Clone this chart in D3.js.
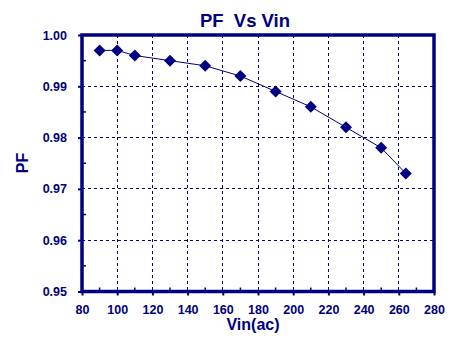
<!DOCTYPE html>
<html><head><meta charset="utf-8">
<script src="https://cdn.jsdelivr.net/npm/d3@7/dist/d3.min.js"></script>
<style>body{margin:0;background:#fff}svg{display:block}text{font-family:"Liberation Sans",Arial,sans-serif;font-weight:bold}</style>
</head><body><svg id="c" width="469" height="348"></svg>
<script>
const vin = [90,100,110,130,150,170,190,210,230,250,264];
const pf = [0.997,0.997,0.996,0.995,0.994,0.992,0.989,0.986,0.982,0.978,0.973];
const xTicks = [80,100,120,140,160,180,200,220,240,260,280];
const yTicks = [0.95,0.96,0.97,0.98,0.99,1.00];
const xMinor = [90,110,130,150,170,190,210,230,250,270];
const yMinor = [0.955,0.965,0.975,0.985,0.995];
const title = "PF  Vs Vin", xLabel = "Vin(ac)", yLabel = "PF";
const C = "#000080";
const svg = d3.select("#c");
const L=82,R=434,T=35,B=291.5;
const x = d3.scaleLinear().domain([80,280]).range([L,R]);
const y = d3.scaleLinear().domain([0.95,1.0]).range([B,T]);
// grid
svg.append("g").selectAll("line").data(xTicks.slice(1,-1)).join("line")
 .attr("x1",d=>x(d)).attr("x2",d=>x(d)).attr("y1",T).attr("y2",B)
 .attr("stroke",C).attr("stroke-width",1).attr("stroke-dasharray","3,3").attr("shape-rendering","crispEdges");
svg.append("g").selectAll("line").data(yTicks.slice(1,-1)).join("line")
 .attr("y1",d=>y(d)).attr("y2",d=>y(d)).attr("x1",L).attr("x2",R)
 .attr("stroke",C).attr("stroke-width",1).attr("stroke-dasharray","3,3").attr("shape-rendering","crispEdges");
// axes
const xa = svg.append("g").attr("transform",`translate(0,${B})`)
 .call(d3.axisBottom(x).tickValues(xTicks).tickFormat(d3.format("d")).tickSize(4).tickPadding(10));
const ya = svg.append("g").attr("transform",`translate(${L},0)`)
 .call(d3.axisLeft(y).tickValues(yTicks).tickFormat(d3.format(".2f")).tickSize(4).tickPadding(11));
[xa,ya].forEach(a=>{a.select(".domain").remove();a.selectAll("line").attr("stroke",C).attr("stroke-width",2);
 a.selectAll("text").attr("fill",C).style("font-size","12.5px").style("font-family","'Liberation Sans',Arial,sans-serif").style("font-weight","bold");});
// minor ticks inside
svg.append("g").selectAll("line").data(xMinor).join("line")
 .attr("x1",d=>x(d)).attr("x2",d=>x(d)).attr("y1",B).attr("y2",B-4).attr("stroke",C).attr("stroke-width",1.5);
svg.append("g").selectAll("line").data(yMinor).join("line")
 .attr("y1",d=>y(d)).attr("y2",d=>y(d)).attr("x1",L).attr("x2",L+4).attr("stroke",C).attr("stroke-width",1.5);
// frame
svg.append("rect").attr("x",L).attr("y",T).attr("width",R-L).attr("height",B-T)
 .attr("fill","none").attr("stroke",C).attr("stroke-width",3.5);
// line
svg.append("path").datum(vin.map((v,i)=>[v,pf[i]]))
 .attr("d",d3.line().x(d=>x(d[0])).y(d=>y(d[1])))
 .attr("fill","none").attr("stroke",C).attr("stroke-width",1);
svg.append("g").selectAll("path").data(vin.map((v,i)=>[v,pf[i]])).join("path")
 .attr("transform",d=>`translate(${x(d[0])},${y(d[1])})`)
 .attr("d","M0,-6L6,0L0,6L-6,0Z").attr("fill",C);
// labels
svg.append("text").attr("x",245).attr("y",27).attr("text-anchor","middle").attr("fill",C).style("font-size","18.5px").style("white-space","pre").attr("xml:space","preserve").text(title);
svg.append("text").attr("x",253).attr("y",330).attr("text-anchor","middle").attr("fill",C).style("font-size","16px").text(xLabel);
svg.append("text").attr("transform","translate(28,163) rotate(-90)").attr("text-anchor","middle").attr("fill",C).style("font-size","16px").text(yLabel);
</script></body></html>
